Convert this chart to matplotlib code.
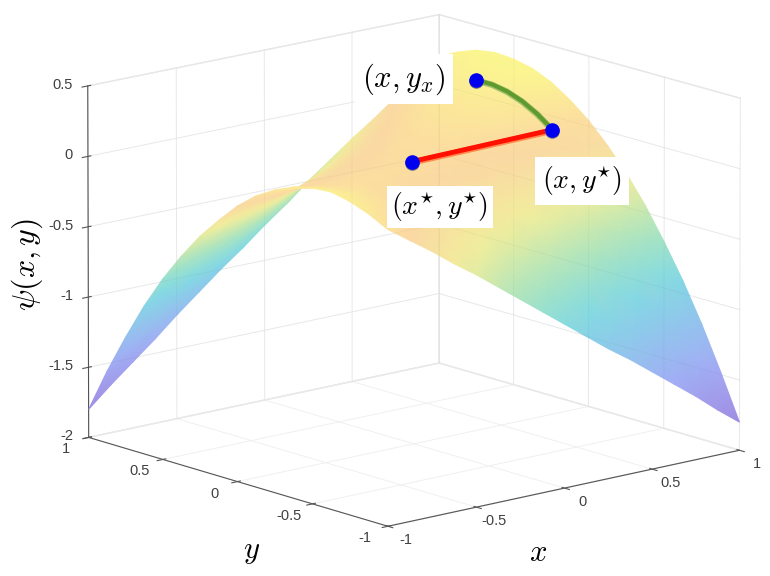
import numpy as np
import matplotlib
matplotlib.use('Agg')
import matplotlib.pyplot as plt
from matplotlib.colors import LinearSegmentedColormap, Normalize
from matplotlib.tri import Triangulation
from mpl_toolkits.mplot3d import proj3d

plt.rcParams['font.family'] = ['Liberation Sans', 'DejaVu Sans']
plt.rcParams['mathtext.fontset'] = 'cm'

# grid of the surface
x_grid = [-1, -0.875, -0.75, -0.625, -0.5, -0.375, -0.25, -0.125, 0, 0.125, 0.25, 0.375, 0.5, 0.625, 0.75, 0.875, 1]
y_grid = [-1, -0.875, -0.75, -0.625, -0.5, -0.375, -0.25, -0.125, 0, 0.125, 0.25, 0.375, 0.5, 0.625, 0.75, 0.875, 1]
psi = [
  [0.09, -0.02, -0.13, -0.25, -0.36, -0.48, -0.60, -0.72, -0.84, -0.96, -1.08, -1.19, -1.31, -1.43, -1.55, -1.68, -1.80],
  [0.16, 0.07, -0.03, -0.13, -0.23, -0.33, -0.44, -0.54, -0.65, -0.75, -0.85, -0.95, -1.05, -1.16, -1.26, -1.37, -1.48],
  [0.21, 0.13, 0.05, -0.04, -0.12, -0.21, -0.30, -0.39, -0.47, -0.55, -0.64, -0.73, -0.81, -0.90, -1.00, -1.09, -1.18],
  [0.24, 0.17, 0.10, 0.03, -0.04, -0.11, -0.19, -0.25, -0.32, -0.39, -0.46, -0.53, -0.60, -0.68, -0.76, -0.83, -0.91],
  [0.23, 0.18, 0.13, 0.07, 0.02, -0.04, -0.09, -0.14, -0.20, -0.25, -0.30, -0.36, -0.42, -0.48, -0.54, -0.61, -0.67],
  [0.20, 0.16, 0.12, 0.08, 0.04, 0.01, -0.02, -0.06, -0.10, -0.14, -0.18, -0.22, -0.26, -0.31, -0.36, -0.40, -0.45],
  [0.14, 0.12, 0.10, 0.07, 0.06, 0.04, 0.02, 0.00, -0.03, -0.05, -0.08, -0.10, -0.13, -0.16, -0.19, -0.23, -0.26],
  [0.06, 0.05, 0.05, 0.04, 0.04, 0.04, 0.04, 0.03, 0.02, 0.01, 0.00, -0.01, -0.03, -0.04, -0.06, -0.08, -0.10],
  [-0.05, -0.04, -0.03, -0.01, 0.00, 0.01, 0.02, 0.03, 0.04, 0.05, 0.05, 0.05, 0.05, 0.05, 0.05, 0.05, 0.04],
  [-0.19, -0.15, -0.12, -0.09, -0.06, -0.04, -0.01, 0.01, 0.03, 0.05, 0.07, 0.09, 0.10, 0.12, 0.13, 0.14, 0.15],
  [-0.34, -0.29, -0.24, -0.20, -0.16, -0.11, -0.08, -0.04, 0.00, 0.04, 0.07, 0.10, 0.13, 0.16, 0.19, 0.21, 0.24],
  [-0.52, -0.45, -0.39, -0.33, -0.27, -0.22, -0.16, -0.11, -0.06, -0.01, 0.04, 0.09, 0.13, 0.18, 0.22, 0.26, 0.30],
  [-0.72, -0.64, -0.57, -0.49, -0.42, -0.35, -0.28, -0.21, -0.15, -0.08, -0.02, 0.05, 0.11, 0.16, 0.22, 0.28, 0.33],
  [-0.95, -0.86, -0.77, -0.68, -0.59, -0.51, -0.42, -0.34, -0.26, -0.18, -0.10, -0.02, 0.05, 0.13, 0.20, 0.27, 0.34],
  [-1.21, -1.10, -1.00, -0.89, -0.79, -0.69, -0.59, -0.49, -0.40, -0.30, -0.21, -0.12, -0.03, 0.06, 0.15, 0.23, 0.32],
  [-1.49, -1.37, -1.25, -1.13, -1.01, -0.90, -0.78, -0.67, -0.56, -0.45, -0.34, -0.24, -0.13, -0.03, 0.07, 0.17, 0.27],
  [-1.80, -1.66, -1.53, -1.40, -1.26, -1.13, -1.00, -0.88, -0.75, -0.63, -0.50, -0.38, -0.26, -0.15, -0.03, 0.09, 0.20],
]

# red segment from (x*, y*) to (x, y*)
red_x = [-0.01, 0.79]
red_y = [0, 0]
red_z = [0.01, 0.03]

# green curve from (x, y*) to (x, y_x)
green_x = [0.79, 0.79, 0.79, 0.79, 0.79, 0.79]
green_y = [0, 0.1, 0.2, 0.3, 0.4, 0.51]
green_z = [0.03, 0.11, 0.17, 0.21, 0.23, 0.23]

dot_x = [-0.01, 0.79, 0.79]
dot_y = [0, 0, 0.51]
dot_z = [0.01, 0.03, 0.23]

ticks_xy = [-1, -0.5, 0, 0.5, 1]
ticks_z = [-2, -1.5, -1, -0.5, 0, 0.5]
ticklabels_xy = ['-1', '-0.5', '0', '0.5', '1']
ticklabels_z = ['-2', '-1.5', '-1', '-0.5', '0', '0.5']

cmap_stops = [(0.0, '#a08ce2'), (0.18, '#a3aef6'), (0.44, '#82dae4'), (0.58, '#aee5be'),
              (0.72, '#f2ee9c'), (0.85, '#fbd8a4'), (1.0, '#fbf690')]
cmap = LinearSegmentedColormap.from_list('soft', cmap_stops)

fig = plt.figure(figsize=(7.7, 5.76), dpi=100)
ax = fig.add_subplot(projection='3d', computed_zorder=False)
ax.set_position([21 / 770, 12 / 576, 1, 1])
ax.view_init(elev=14.2, azim=-130.5)
ax.set_proj_type('persp', focal_length=10)
ax.set_box_aspect((1, 1, 0.785), zoom=1.26)

ax.set_xlim(-1, 1, view_margin=0)
ax.set_ylim(-1, 1, view_margin=0)
ax.set_zlim(-2, 0.5, view_margin=0)
# tick labels are placed by hand below, matplotlib's pad moves them the wrong way
ax.set_xticks(ticks_xy, [''] * len(ticks_xy))
ax.set_yticks(ticks_xy, [''] * len(ticks_xy))
ax.set_zticks(ticks_z, [''] * len(ticks_z))
ax.tick_params(colors='#555555')

for axis in (ax.xaxis, ax.yaxis, ax.zaxis):
  axis.set_pane_color((1, 1, 1, 1))
  axis._axinfo['grid']['color'] = '#f0f0f0'
  axis._axinfo['grid']['linewidth'] = 0.7
  axis.line.set_color('#555555')
  axis.line.set_linewidth(0.8)
  axis.pane.set_edgecolor('#e6e6e6')

# overlay in pixels so the surface can get smooth vertex colours
fig.canvas.draw()
ov = fig.add_axes([0, 0, 1, 1], facecolor='none')
ov.set_xlim(0, 770)
ov.set_ylim(0, 576)
ov.axis('off')


def to_pixels(xs, ys, zs):
  px, py, _ = proj3d.proj_transform(np.ravel(xs), np.ravel(ys), np.ravel(zs), ax.get_proj())
  return ax.transData.transform(np.column_stack([px, py])).T


X, Y = np.meshgrid(x_grid, y_grid)
Z = np.array(psi)
sx, sy = to_pixels(X, Y, Z)
nr, nc = Z.shape
# triangles go far to near, the camera sits on the (-x, -y) side
tris = []
for r in range(nr - 2, -1, -1):
  for c in range(nc - 2, -1, -1):
    a, b, d, e = r * nc + c, r * nc + c + 1, (r + 1) * nc + c, (r + 1) * nc + c + 1
    tris.append([a, b, e])
    tris.append([a, e, d])
ov.tripcolor(Triangulation(sx, sy, tris), Z.ravel(), shading='gouraud', cmap=cmap,
             norm=Normalize(-1.8, 0.3), zorder=1)

# wall grid showing faintly through the surface
for t in ticks_xy:
  px, py = to_pixels([t, t], [1, 1], [-2, 0.5])
  ov.plot(px, py, color='k', lw=0.7, alpha=0.03, zorder=2)
  px, py = to_pixels([1, 1], [t, t], [-2, 0.5])
  ov.plot(px, py, color='k', lw=0.7, alpha=0.03, zorder=2)
for t in ticks_z:
  px, py = to_pixels([-1, 1, 1], [1, 1, -1], [t, t, t])
  ov.plot(px, py, color='k', lw=0.7, alpha=0.03, zorder=2)

rx, ry = to_pixels(red_x, red_y, red_z)
gx, gy = to_pixels(green_x, green_y, green_z)
dx, dy = to_pixels(dot_x, dot_y, dot_z)
ov.plot(rx, ry - 1, color='#ff8a50', lw=4.5, solid_capstyle='butt', zorder=3)
ov.plot(rx, ry, color='#ff1000', lw=3.5, solid_capstyle='butt', zorder=3)
ov.plot(gx, gy, color='#a4c070', lw=4.5, zorder=3)
ov.plot(gx, gy + 0.5, color='#5f9a2c', lw=3, zorder=3)
ov.plot(dx, dy - 1, 'o', color='#707088', ms=10.5, mew=0, zorder=4)
ov.plot(dx, dy, 'o', color='#0000f0', ms=10.5, mew=0, zorder=4)

# tick labels
tick_font = dict(fontsize=10.5, color='#404040', va='center')
for t, lab in zip(ticks_xy, ticklabels_xy):
  px, py = to_pixels([t], [-1], [-2])
  ov.text(px[0] + 18, py[0] - 14, lab, ha='center', **tick_font)
  px, py = to_pixels([-1], [t], [-2])
  ov.text(px[0] - 23, py[0] - 12, lab, ha='center', **tick_font)
for t, lab in zip(ticks_z, ticklabels_z):
  px, py = to_pixels([-1], [1], [t])
  ov.text(px[0] - 15, py[0] + 1, lab, ha='right', **tick_font)

fig.text(27 / 770, 1 - 265 / 576, r'$\psi(x,y)$', fontsize=23, rotation=90, ha='center', va='center')
fig.text(252 / 770, 1 - 551 / 576, r'$y$', fontsize=22, ha='center', va='center')
fig.text(538 / 770, 1 - 553 / 576, r'$x$', fontsize=22, ha='center', va='center')

box = dict(facecolor='white', edgecolor='none', pad=5)
fig.text(404 / 770, 1 - 79 / 576, r'$(x,y_x)$', fontsize=22, ha='center', va='center', bbox=box)
fig.text(582 / 770, 1 - 181 / 576, r'$(x,y^{\star})$', fontsize=20, ha='center', va='center', bbox=box)
fig.text(440 / 770, 1 - 207 / 576, r'$(x^{\star},y^{\star})$', fontsize=20, ha='center', va='center',
         bbox=dict(facecolor='white', edgecolor='none', pad=3))

fig.savefig('out.png', dpi=100)
